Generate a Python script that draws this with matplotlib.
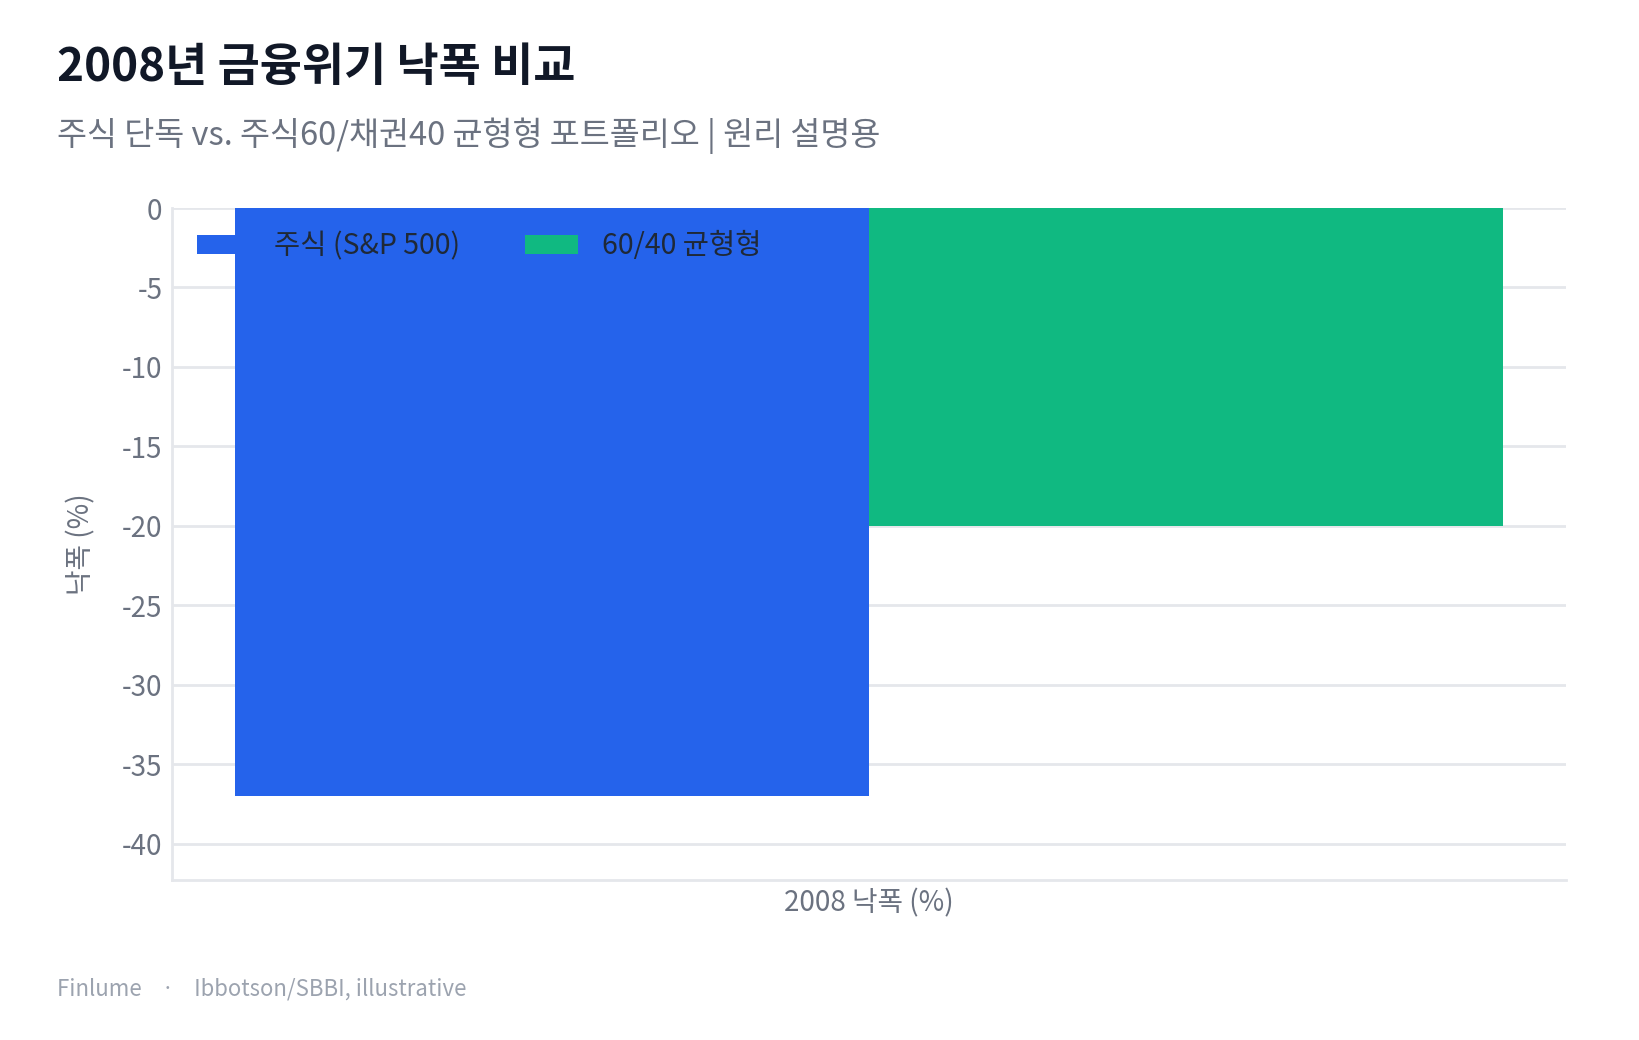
import matplotlib
matplotlib.use("Agg")
import matplotlib.pyplot as plt
import numpy as np

# data
category = "2008 낙폭 (%)"
series = ["주식 (S&P 500)", "60/40 균형형"]
drawdown = [-37, -20]
colors = ["#2563eb", "#10b981"]
yticks = [0, -5, -10, -15, -20, -25, -30, -35, -40]

plt.rcParams['font.family'] = ['Noto Sans CJK KR', 'DejaVu Sans']

fig = plt.figure(figsize=(16.39, 10.40), dpi=100)
ax = fig.add_axes([0.105, 0.1538, 0.8505, 0.6462])

width = 0.5
offsets = [-width / 2, width / 2]
for name, val, col, off in zip(series, drawdown, colors, offsets):
    ax.bar(0 + off, val, width, color=col, label=name)

ax.set_xlim(-0.55, 0.55)
ax.set_ylim(-42.3, 0)
ax.set_yticks(yticks)
ax.set_yticklabels([str(t) for t in yticks])
ax.set_xticks([0])
ax.set_xticklabels([category])

grid_col = "#e5e7eb"
ax.set_axisbelow(True)
ax.yaxis.grid(True, color=grid_col, linewidth=2)
for s in ["top", "right"]:
    ax.spines[s].set_visible(False)
for s in ["left", "bottom"]:
    ax.spines[s].set_color(grid_col)
    ax.spines[s].set_linewidth(2)
ax.tick_params(axis="both", length=0, labelsize=20, labelcolor="#6b7280")
ax.tick_params(axis="y", pad=7)
ax.tick_params(axis="x", pad=6)

ax.set_ylabel("낙폭 (%)", fontsize=20, color="#6b7280", labelpad=18)

leg = ax.legend(loc="center left", bbox_to_anchor=(0.0176, 0.943), ncol=2,
                frameon=False, fontsize=20.5, handlelength=1.85, handleheight=0.63,
                handletextpad=0.85, columnspacing=2.3, borderaxespad=0, borderpad=0)
for t in leg.get_texts():
    t.set_color("#1f2937")

fig.text(0.035, 0.922, "2008년 금융위기 낙폭 비교", fontsize=33, fontweight="bold",
         color="#111827", va="baseline")
fig.text(0.035, 0.869, "주식 단독 vs. 주식60/채권40 균형형 포트폴리오 | 원리 설명용",
         fontsize=23.5, color="#6b7280", va="center")
fig.text(0.035, 0.049, "Finlume    ·    Ibbotson/SBBI, illustrative",
         fontsize=16, color="#9ca3af", va="center")

fig.savefig("out.png", dpi=100, facecolor="white")
